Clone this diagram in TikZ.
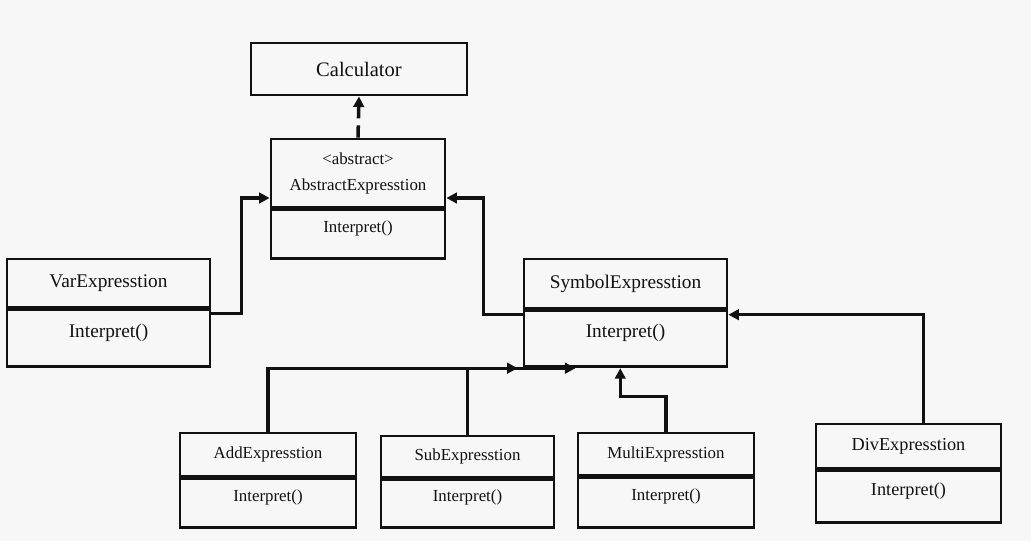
\documentclass[tikz,border=0pt]{standalone}
\usepackage{fontspec}
\setmainfont{Liberation Serif}
\usetikzlibrary{positioning,arrows.meta}
\definecolor{bg}{HTML}{F7F7F7}
\definecolor{ink}{HTML}{111111}

\begin{document}
\begin{tikzpicture}[x=0.02cm,y=-0.02cm,
  box/.style={draw=ink,line width=1.6pt,inner sep=0pt,align=center,text=ink},
  op/.style={box,text depth=9pt},
  big/.style={font=\fontsize{11}{13}\selectfont},
  small/.style={font=\fontsize{9.6}{14.8}\selectfont},
  link/.style={draw=ink,line width=1.8pt,-{Triangle[length=6pt,width=6pt]}}]
\fill[bg] (0,0) rectangle (1031,541);
\useasboundingbox (0,0) rectangle (1031,541);

\node[box,font=\fontsize{11.7}{14}\selectfont,minimum width=4.32cm,minimum height=1.04cm] (calc) at (359,69) {Calculator};
\node[box,small,minimum width=3.48cm,minimum height=1.36cm] (abs) at (358,173) {\textless abstract\textgreater\\AbstractExpresstion};
\node[op,small,minimum width=3.48cm,minimum height=0.98cm,below=0pt of abs] (absop) {Interpret()};

\node[box,big,minimum width=4.06cm,minimum height=0.96cm] (var) at (108.5,283) {VarExpresstion};
\node[op,big,minimum width=4.06cm,minimum height=1.14cm,below=0pt of var] (varop) {Interpret()};

\node[box,big,minimum width=4.06cm,minimum height=0.98cm] (sym) at (625.5,283.5) {SymbolExpresstion};
\node[op,big,minimum width=4.06cm,minimum height=1.12cm,below=0pt of sym] (symop) {Interpret()};

\node[box,small,minimum width=3.52cm,minimum height=0.86cm] (add) at (268,454.5) {AddExpresstion};
\node[op,small,minimum width=3.52cm,minimum height=0.98cm,below=0pt of add] (addop) {Interpret()};

\node[box,small,minimum width=3.46cm,minimum height=0.82cm] (sub) at (467.5,456.5) {SubExpresstion};
\node[op,small,minimum width=3.46cm,minimum height=0.96cm,below=0pt of sub] (subop) {Interpret()};

\node[box,small,minimum width=3.52cm,minimum height=0.84cm] (multi) at (666,454) {MultiExpresstion};
\node[op,small,minimum width=3.52cm,minimum height=1cm,below=0pt of multi] (multiop) {Interpret()};

\node[box,font=\fontsize{10.4}{13}\selectfont,minimum width=3.7cm,minimum height=0.88cm] (div) at (908.5,446) {DivExpresstion};
\node[op,font=\fontsize{10.4}{13}\selectfont,minimum width=3.7cm,minimum height=1.04cm,below=0pt of div] (divop) {Interpret()};

\draw[link,line width=2pt,dash pattern=on 7pt off 4pt] (abs.north) -- (calc.south);
\draw[link] ([yshift=-3pt]var.south east) -- ++(30,0) |- ([yshift=-0.5cm]abs.west);
\draw[link] ([yshift=-3pt]sym.south west) -- ++(-39,0) |- ([yshift=-0.5cm]abs.east);
\draw[link] (add.north) |- ([xshift=-0.1cm]symop.south west);
\draw[link] (sub.north) |- ([xshift=-1cm]symop.south);
\draw[link] (multi.north) -- ++(0,-35) -| ([xshift=-3pt]symop.south);
\draw[link] ([xshift=0.3cm]div.north) |- ([yshift=-3pt]sym.south east);
\end{tikzpicture}
\end{document}
